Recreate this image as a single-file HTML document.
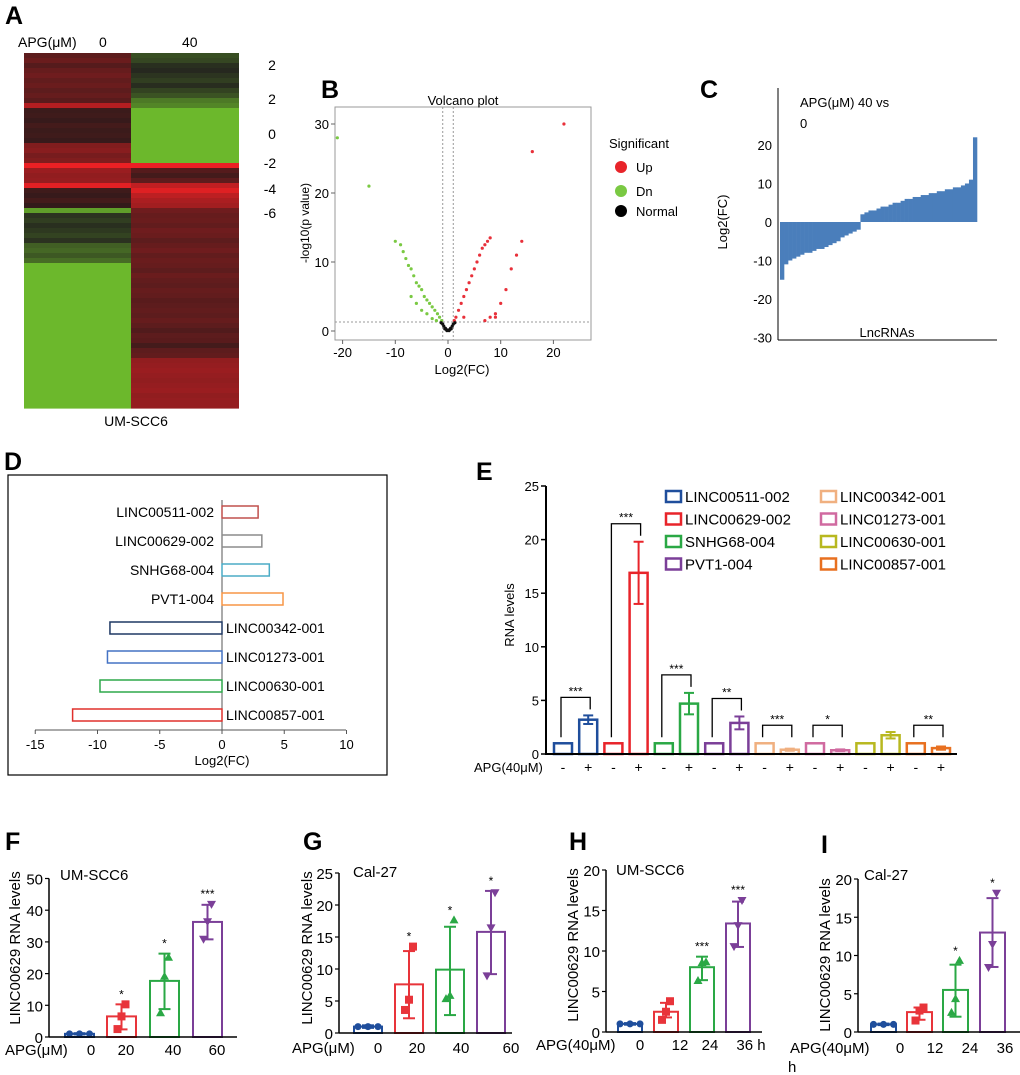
<!DOCTYPE html>
<html><head><meta charset="utf-8"><style>
html,body{margin:0;padding:0;background:#fff;}
svg{display:block;font-family:"Liberation Sans",Arial,sans-serif;}
</style></head><body>
<svg id="fig" width="1020" height="1075" viewBox="0 0 1020 1075" xmlns="http://www.w3.org/2000/svg">
<rect width="1020" height="1075" fill="#fff"/>
<g font-weight="bold" font-size="25" fill="#000">
<text x="5" y="24">A</text>
<text x="321" y="98">B</text>
<text x="700" y="98">C</text>
<text x="4" y="470">D</text>
<text x="476" y="480">E</text>
<text x="5" y="850">F</text>
<text x="303" y="850">G</text>
<text x="569" y="850">H</text>
<text x="821" y="853">I</text>
</g>
<g font-size="14" fill="#000">
<text x="18" y="47">APG(μM)</text>
<text x="99" y="47">0</text>
<text x="182" y="47">40</text>
<text x="136" y="426" text-anchor="middle">UM-SCC6</text>
<g text-anchor="middle">
<text x="272" y="70">2</text><text x="272" y="104">2</text><text x="272" y="139">0</text>
<text x="270" y="168">-2</text><text x="270" y="194">-4</text><text x="270" y="218">-6</text>
</g>
</g>
<g id="heat"></g>
<g id="volcano"></g>
<g id="water"></g>
<g id="dplot"></g>
<g id="eplot"></g>
<g id="fplot"></g>
<g id="gplot"></g>
<g id="hplot"></g>
<g id="iplot"></g>
</svg>
<script>
const heatLeft = [1.2,1.5,1,1.4,1.6,1.3,1.5,1.2,1.4,1.1,3.2,0.4,0.5,0.3,0.6,0.4,0.5,0.3,2,2.2,1.8,2,4.5,2.6,2.4,2.5,4.3,0.5,0.3,0.6,0.2,-5,-0.8,-1.2,-0.6,-1,-1.4,-0.7,-2.5,-2.8,-2.2,-3,-6,-6,-6,-6,-6,-6,-6,-6,-6,-6,-6,-6,-6,-6,-6,-6,-6,-6,-6,-6,-6,-6,-6,-6,-6,-6,-6,-6,-6];
const heatRight = [-1.8,-1.5,-0.6,-0.3,-0.8,-1.2,-0.5,-1.4,-2,-3.5,-4,-6,-6,-6,-6,-6,-6,-6,-6,-6,-6,-6,4.6,1,0.6,1.2,3.5,4.2,3.4,3,2.8,1.6,1.4,1.5,1.3,1.6,1.5,1.2,1.4,1.6,1.3,1.5,1.4,1.2,1.5,1.3,1.2,1.4,1.3,1.1,1.2,1.3,1.2,1.4,1.2,0.9,1.2,1.1,0.6,1.2,1.3,2.4,2.5,2.6,2.5,2.4,2.5,2.6,2.4,2.5,2.5];

const volTicksX = [-20,-10,0,10,20];
const volTicksY = [0,10,20,30];
const dnFC = [-1.2,-1.6,-2,-2.5,-3,-3.5,-4,-4.5,-5,-5.5,-6,-6.5,-7,-7.5,-8,-8.5,-9,-10,-4,-5,-6,-7,-3,-2.2,-15,-21];
const dnP  = [1.5,2,2.5,3,3.5,4,4.5,5,6,6.5,7,8,9,9.5,10.5,11.5,12.5,13,2.5,3,4,5,1.8,1.5,21,28];
const upFC = [1.2,1.5,2,2.5,3,3.5,4,4.5,5,5.5,6,6.5,7,7.5,8,9,10,11,12,13,14,7,8,9,3,16,22];
const upP  = [1.5,2,3,4,5,6,7,8,9,10,11,12,12.5,13,13.5,2.5,4,6,9,11,13,1.5,2,2,2,26,30];
const nFC  = [-1,-0.8,-0.5,-0.3,0,0.3,0.5,0.8,1,-0.6,0.6,-0.2,0.2,-1.3,1.3];
const nP   = [1,0.7,0.4,0.2,0.1,0.2,0.4,0.7,1,0.3,0.3,0.05,0.05,1.2,1.2];

const waterTicks = [20,10,0,-10,-20,-30];
const waterVals = [-15,-11,-10,-9.5,-9,-8.5,-8,-8,-7.5,-7,-7,-6.5,-6,-5.5,-5,-4,-3.5,-3,-2.5,-2,2,2.5,3,3,3.5,4,4,4.5,5,5,5.5,6,6,6.5,6.5,7,7,7.5,7.5,8,8,8.5,8.5,9,9,9.5,10,11,22];

const dNames = ["LINC00511-002","LINC00629-002","SNHG68-004","PVT1-004","LINC00342-001","LINC01273-001","LINC00630-001","LINC00857-001"];
const dVals = [2.9,3.2,3.8,4.9,-9,-9.2,-9.8,-12];
const dColors = ["#c0504d","#8c8c8c","#4bacc6","#f79646","#1f3864","#4472c4","#2ea84a","#e0302c"];
const dTicks = [-15,-10,-5,0,5,10];

const eNames = ["LINC00511-002","LINC00629-002","SNHG68-004","PVT1-004","LINC00342-001","LINC01273-001","LINC00630-001","LINC00857-001"];
const eColors = ["#1f4e9c","#e8242a","#2aa845","#7b3f98","#f0b080","#d06aa0","#b8b820","#e87020"];
const eCtrl = [1,1,1,1,1,1,1,1];
const eTreat = [3.2,16.9,4.7,2.9,0.4,0.35,1.75,0.55];
const eErr = [0.4,2.9,1,0.6,0.1,0.08,0.3,0.15];
const eStars = ["***","***","***","**","***","*","","**"];
const eTicks = [0,5,10,15,20,25];

const fVals=[1,6.5,17.7,36.3], fLo=[0.8,2.4,8.8,30.8], fHi=[1.2,10.3,26.3,41.7];
const fPts=[[1,1,1],[2.5,6.5,10.3],[7.5,19,25],[31,36.5,42]];
const fStars=["","*","*","***"], fTicks=[0,10,20,30,40,50], fCats=["0","20","40","60"];
const gVals=[1,7.6,9.9,15.8], gLo=[0.8,2.3,2.8,9.2], gHi=[1.2,12.8,16.6,22.2];
const gPts=[[1,1,1],[3.6,5.2,13.5],[5.3,5.8,17.6],[9,16.5,22]];
const gStars=["","*","*","*"], gTicks=[0,5,10,15,20,25], gCats=["0","20","40","60"];
const hVals=[1,2.5,8,13.4], hLo=[0.9,1.8,6.4,10.5], hHi=[1.1,3.6,9.3,16.1];
const hPts=[[1,1,1],[1.5,2.5,3.8],[6.3,8.5,8.6],[10.6,13.2,16.3]];
const hStars=["","","***","***"], hTicks=[0,5,10,15,20], hCats=["0","12","24","36 h"];
const iVals=[1,2.6,5.5,13], iLo=[0.9,1.6,2,8.5], iHi=[1.1,3.2,8.8,17.5];
const iPts=[[1,1,1],[1.5,2.8,3.2],[2.5,4.3,9.3],[8.5,11.5,18.2]];
const iStars=["","","*","*"], iTicks=[0,5,10,15,20], iCats=["0","12","24","36"];

const NS="http://www.w3.org/2000/svg";
function mk(parent,tag,attrs,text){const e=document.createElementNS(NS,tag);for(const k in attrs)e.setAttribute(k,attrs[k]);if(text!==undefined)e.textContent=text;parent.appendChild(e);return e;}
const lerp=(a,b,t)=>Math.round(a+(b-a)*t);
function heatColor(v){if(v>=0){const t=Math.min(v/4.5,1);return `rgb(${lerp(42,235,t)},${lerp(26,32,t)},${lerp(26,36,t)})`;}const t=Math.min(-v/6,1);return `rgb(${lerp(34,108,t)},${lerp(32,184,t)},${lerp(30,44,t)})`;}

(function(){const g=document.getElementById('heat');const top=53,bot=408,n=heatLeft.length,rh=(bot-top)/n;
[[heatLeft,24,107],[heatRight,131,108]].forEach(([arr,x,w],ci)=>{arr.forEach((v,i)=>{const r=mk(g,'rect',{x:x,y:top+i*rh,width:w,height:rh+0.6,fill:heatColor(v)});

});});})();

(function(){const g=document.getElementById('volcano');
const X=v=>448+v*5.27, Y=v=>331-v*6.9;
mk(g,'rect',{x:335,y:107,width:256,height:233,fill:'none',stroke:'#999','stroke-width':1});
mk(g,'line',{x1:X(-1),x2:X(-1),y1:107,y2:340,stroke:'#999','stroke-dasharray':'2,2'});
mk(g,'line',{x1:X(1),x2:X(1),y1:107,y2:340,stroke:'#999','stroke-dasharray':'2,2'});
mk(g,'line',{x1:335,x2:591,y1:Y(1.3),y2:Y(1.3),stroke:'#999','stroke-dasharray':'2,2'});
volTicksX.forEach(t=>{mk(g,'line',{x1:X(t),x2:X(t),y1:340,y2:344,stroke:'#666'});const e=mk(g,'text',{x:X(t),y:357,'font-size':13,'text-anchor':'middle'},t);

});
volTicksY.forEach(t=>{mk(g,'line',{x1:331,x2:335,y1:Y(t),y2:Y(t),stroke:'#666'});const e=mk(g,'text',{x:329,y:Y(t)+5,'font-size':13,'text-anchor':'end'},t);

});
const pts=(fc,p,c)=>fc.forEach((v,i)=>{const d=mk(g,'circle',{cx:X(v),cy:Y(p[i]),r:1.6,fill:c});

});
pts(dnFC,dnP,'#7ac943');pts(upFC,upP,'#e8303a');pts(nFC,nP,'#111');
let t=mk(g,'text',{x:463,y:105,'font-size':13,'text-anchor':'middle'},'Volcano plot');
t=mk(g,'text',{x:462,y:374,'font-size':13,'text-anchor':'middle'},'Log2(FC)');
t=mk(g,'text',{x:0,y:0,'font-size':12,'text-anchor':'middle',transform:'translate(309,223) rotate(-90)'},'-log10(p value)');
t=mk(g,'text',{x:609,y:148,'font-size':13},'Significant');
[['Up','#e8242a',172],['Dn','#7ac943',196],['Normal','#000',216]].forEach(([l,c,y])=>{mk(g,'circle',{cx:621,cy:y-5,r:6,fill:c});const e=mk(g,'text',{x:636,y:y,'font-size':13},l);

});
})();

(function(){const g=document.getElementById('water');
const Y=v=>222-v*3.85;const x0=780,bw=197/waterVals.length;
waterVals.forEach((v,i)=>{const r=mk(g,'rect',{x:x0+i*bw,y:Math.min(Y(v),Y(0)),width:bw+0.3,height:Math.abs(Y(v)-Y(0)),fill:'#4a7ebb'});

});
mk(g,'line',{x1:778,x2:778,y1:88,y2:340,stroke:'#000'});
mk(g,'line',{x1:778,x2:997,y1:340,y2:340,stroke:'#000'});
waterTicks.forEach(t=>{const e=mk(g,'text',{x:772,y:Y(t)+5,'font-size':13,'text-anchor':'end'},t);

});
let t=mk(g,'text',{x:800,y:107,'font-size':13},'APG(μM) 40 vs');
mk(g,'text',{x:800,y:128,'font-size':13},'0');
t=mk(g,'text',{x:887,y:337,'font-size':13,'text-anchor':'middle'},'LncRNAs');
t=mk(g,'text',{x:0,y:0,'font-size':13,'text-anchor':'middle',transform:'translate(727,222) rotate(-90)'},'Log2(FC)');
})();

(function(){const g=document.getElementById('dplot');
const X=v=>222+v*12.45;
mk(g,'rect',{x:8,y:475,width:379,height:300,fill:'none',stroke:'#000','stroke-width':1.2});
mk(g,'line',{x1:35,x2:346,y1:730,y2:730,stroke:'#555'});
mk(g,'line',{x1:222,x2:222,y1:500,y2:730,stroke:'#555'});
dTicks.forEach(t=>{mk(g,'line',{x1:X(t),x2:X(t),y1:730,y2:734,stroke:'#555'});const e=mk(g,'text',{x:X(t),y:749,'font-size':13,'text-anchor':'middle'},t);

});
dVals.forEach((v,i)=>{const cy=512+i*29;const r=mk(g,'rect',{x:Math.min(X(v),X(0)),y:cy-6,width:Math.abs(X(v)-X(0)),height:12,fill:'#fff',stroke:dColors[i],'stroke-width':1.5});


const e=mk(g,'text',{x:v>0?214:226,y:cy+5,'font-size':14,'text-anchor':v>0?'end':'start'},dNames[i]);

});
const t=mk(g,'text',{x:222,y:765,'font-size':13,'text-anchor':'middle'},'Log2(FC)');
})();

(function(){const g=document.getElementById('eplot');
const Y=v=>754-v*10.72;const cx=(i,k)=>563+i*50.4+k*25.2;const bw=18;
eCtrl.forEach((v,i)=>{[v,eTreat[i]].forEach((val,k)=>{const r=mk(g,'rect',{x:cx(i,k)-bw/2,y:Y(val),width:bw,height:Y(0)-Y(val),fill:'#fff',stroke:eColors[i],'stroke-width':2.5});


const s=mk(g,'text',{x:cx(i,k),y:772,'font-size':14,'text-anchor':'middle'},k?'+':'-');

});
const x=cx(i,1),lo=eTreat[i]-eErr[i],hi=eTreat[i]+eErr[i];
mk(g,'line',{x1:x,x2:x,y1:Y(hi),y2:Y(lo),stroke:eColors[i],'stroke-width':2});
mk(g,'line',{x1:x-5,x2:x+5,y1:Y(hi),y2:Y(hi),stroke:eColors[i],'stroke-width':2});
mk(g,'line',{x1:x-5,x2:x+5,y1:Y(lo),y2:Y(lo),stroke:eColors[i],'stroke-width':2});
if(eStars[i]){const top=Math.min(Y(Math.max(hi,1))-18,Y(1)-18);const xl=cx(i,0)-2,xr=cx(i,1)+2;
mk(g,'polyline',{points:`${xl},${Y(1)-6} ${xl},${top} ${xr},${top} ${xr},${Math.min(Y(hi),Y(1))-6}`,fill:'none',stroke:'#000','stroke-width':1.3});
const s=mk(g,'text',{x:(xl+xr)/2,y:top-2,'font-size':12,'text-anchor':'middle'},eStars[i]);

}});
mk(g,'line',{x1:546,x2:546,y1:486,y2:755,stroke:'#000','stroke-width':2});
mk(g,'line',{x1:545,x2:957,y1:754,y2:754,stroke:'#000','stroke-width':2});
eTicks.forEach(t=>{mk(g,'line',{x1:541,x2:546,y1:Y(t),y2:Y(t),stroke:'#000','stroke-width':1.5});const e=mk(g,'text',{x:539,y:Y(t)+5,'font-size':13,'text-anchor':'end'},t);

});
let t=mk(g,'text',{x:474,y:772,'font-size':13},'APG(40μM)');
t=mk(g,'text',{x:0,y:0,'font-size':13,'text-anchor':'middle',transform:'translate(514,615) rotate(-90)'},'RNA levels');
eNames.forEach((n,i)=>{const col=i<4?0:1,row=i%4;const x=col?821:666,y=497+row*22.5;
const r=mk(g,'rect',{x:x,y:y-6,width:15,height:11,fill:'#fff',stroke:eColors[i],'stroke-width':2.5});


const e=mk(g,'text',{x:x+19,y:y+5,'font-size':15},n);

});
})();

const fgColors=["#1f4e9c","#e8343a","#2aa845","#7b3f98"];
function marker(g,k,x,y,c){let e;if(k===0)e=mk(g,'circle',{cx:x,cy:y,r:3.5,fill:c});
else if(k===1)e=mk(g,'rect',{x:x-4,y:y-4,width:8,height:8,fill:c});
else if(k===2)e=mk(g,'polygon',{points:`${x},${y-5} ${x+4.5},${y+3} ${x-4.5},${y+3}`,fill:c});
else e=mk(g,'polygon',{points:`${x},${y+5} ${x+4.5},${y-3} ${x-4.5},${y-3}`,fill:c});

}
function barPanel(id,o){const g=document.getElementById(id);const Y=v=>o.y0-v*o.s;
o.vals.forEach((v,i)=>{const x=o.bx[i],c=fgColors[i];
const r=mk(g,'rect',{x:x,y:Y(v),width:o.bw,height:Y(0)-Y(v),fill:'#fff',stroke:c,'stroke-width':2});


const cx=x+o.bw/2;
mk(g,'line',{x1:cx,x2:cx,y1:Y(o.hi[i]),y2:Y(o.lo[i]),stroke:c,'stroke-width':2});
mk(g,'line',{x1:cx-6,x2:cx+6,y1:Y(o.hi[i]),y2:Y(o.hi[i]),stroke:c,'stroke-width':2});
mk(g,'line',{x1:cx-6,x2:cx+6,y1:Y(o.lo[i]),y2:Y(o.lo[i]),stroke:c,'stroke-width':2});
o.pts[i].forEach((p,j)=>marker(g,i,i===0?cx+(j-1)*10:cx+(j-1)*4,Y(p),c));
if(o.stars[i]){const s=mk(g,'text',{x:cx,y:Math.min(Y(o.hi[i]),Y(Math.max(...o.pts[i])))-6,'font-size':12,'text-anchor':'middle'},o.stars[i]);

}
const t=mk(g,'text',{x:o.lx[i],y:o.ly,'font-size':15,'text-anchor':'middle'},o.cats[i]);

});
mk(g,'line',{x1:o.ax,x2:o.ax,y1:Y(o.ticks[o.ticks.length-1]),y2:Y(0),stroke:'#000','stroke-width':1.5});
mk(g,'line',{x1:o.ax,x2:o.xe,y1:Y(0),y2:Y(0),stroke:'#000','stroke-width':1.5});
o.ticks.forEach(t=>{mk(g,'line',{x1:o.ax-4,x2:o.ax,y1:Y(t),y2:Y(t),stroke:'#000','stroke-width':1.2});const e=mk(g,'text',{x:o.ax-6,y:Y(t)+6,'font-size':15,'text-anchor':'end'},t);

});
let t=mk(g,'text',{x:o.tx,y:o.ty,'font-size':15},o.title);
t=mk(g,'text',{x:o.xlx,y:o.ly,'font-size':15},o.xl);
t=mk(g,'text',{x:0,y:0,'font-size':15,'text-anchor':'middle',transform:`translate(${o.ylx},${o.yly}) rotate(-90)`},'LINC00629 RNA levels');
}
barPanel('fplot',{vals:fVals,lo:fLo,hi:fHi,pts:fPts,stars:fStars,ticks:fTicks,cats:fCats,y0:1037,s:3.17,ax:49,xe:237,bx:[65,107,150,193],bw:29,lx:[91,126,173,217],ly:1055,tx:60,ty:880,title:'UM-SCC6',xl:'APG(μM)',xlx:5,ylx:20,yly:948});
barPanel('gplot',{vals:gVals,lo:gLo,hi:gHi,pts:gPts,stars:gStars,ticks:gTicks,cats:gCats,y0:1033,s:6.4,ax:339,xe:512,bx:[354,395,436,477],bw:28,lx:[378,417,461,511],ly:1053,tx:353,ty:877,title:'Cal-27',xl:'APG(μM)',xlx:292,ylx:312,yly:948});
barPanel('hplot',{vals:hVals,lo:hLo,hi:hHi,pts:hPts,stars:hStars,ticks:hTicks,cats:hCats,y0:1032,s:8.1,ax:606,xe:762,bx:[618,654,690,726],bw:24,lx:[640,680,710,751],ly:1050,tx:616,ty:875,title:'UM-SCC6',xl:'APG(40μM)',xlx:536,ylx:578,yly:945});
barPanel('iplot',{vals:iVals,lo:iLo,hi:iHi,pts:iPts,stars:iStars,ticks:iTicks,cats:iCats,y0:1032,s:7.65,ax:858,xe:1020,bx:[871,907,943,980],bw:25,lx:[900,935,970,1005],ly:1053,tx:864,ty:880,title:'Cal-27',xl:'APG(40μM)',xlx:790,ylx:830,yly:955});
(function(){const g=document.getElementById('iplot');const t=mk(g,'text',{x:788,y:1072,'font-size':15},'h');})();
</script>
</body></html>
